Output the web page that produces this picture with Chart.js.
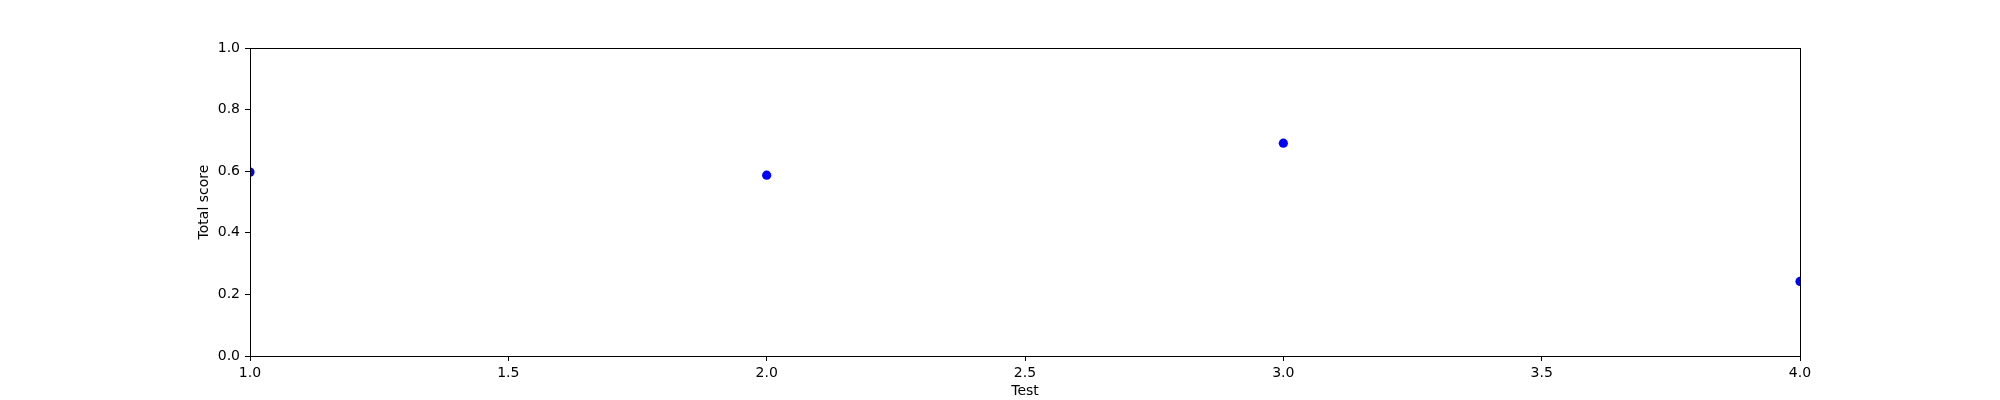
<!DOCTYPE html>
<html>
<head>
<meta charset="utf-8">
<script src="https://cdn.jsdelivr.net/npm/chart.js@4/dist/chart.umd.min.js"></script>
<style>
  html, body { margin: 0; padding: 0; background: white; }
  #wrap { width: 2000px; height: 400px; }
</style>
</head>
<body>
<div id="wrap"><canvas id="chart" width="2000" height="400"></canvas></div>
<script>
var tests = [1, 2, 3, 4];
var scores = [0.597, 0.587, 0.691, 0.242];

var xTicks = [1.0, 1.5, 2.0, 2.5, 3.0, 3.5, 4.0];
var yTicks = [0.0, 0.2, 0.4, 0.6, 0.8, 1.0];

var font = { family: 'DejaVu Sans', size: 14 };

// draw the top and right spines too, like a boxed axes
var boxPlugin = {
  id: 'box',
  afterDraw: function(chart) {
    var a = chart.chartArea;
    var ctx = chart.ctx;
    ctx.save();
    ctx.strokeStyle = '#000';
    ctx.lineWidth = 1;
    ctx.strokeRect(Math.round(a.left) + 0.5, Math.round(a.top) + 0.5,
      Math.round(a.right - a.left), Math.round(a.bottom - a.top));
    ctx.restore();
  }
};

new Chart(document.getElementById('chart'), {
  type: 'scatter',
  data: {
    datasets: [{
      data: tests.map(function(t, i) { return { x: t, y: scores[i] }; }),
      backgroundColor: '#0000ff',
      borderWidth: 0,
      pointRadius: 4.6,
      clip: 0
    }]
  },
  options: {
    responsive: false,
    animation: false,
    layout: { padding: { left: 192, right: 200, top: 48, bottom: 0 } },
    plugins: { legend: { display: false }, tooltip: { enabled: false } },
    scales: {
      x: {
        type: 'linear',
        min: 1, max: 4,
        afterFit: function(s) { s.height = 44; },
        afterBuildTicks: function(s) { s.ticks = xTicks.map(function(v) { return { value: v }; }); },
        ticks: {
          color: '#000', font: font, padding: 4, maxRotation: 0,
          callback: function(v) { return v.toFixed(1); }
        },
        grid: { drawOnChartArea: false, drawTicks: true, tickLength: 5, color: '#000' },
        border: { display: true, color: '#000', width: 1 },
        title: { display: true, text: 'Test', color: '#000', font: font, padding: { top: 0, bottom: 0 } }
      },
      y: {
        min: 0, max: 1,
        afterFit: function(s) { s.width = 58; },
        afterBuildTicks: function(s) { s.ticks = yTicks.map(function(v) { return { value: v }; }); },
        ticks: {
          color: '#000', font: font, padding: 5,
          callback: function(v) { return v.toFixed(1); }
        },
        grid: { drawOnChartArea: false, drawTicks: true, tickLength: 5, color: '#000' },
        border: { display: true, color: '#000', width: 1 },
        title: { display: true, text: 'Total score', color: '#000', font: font, padding: { top: 4, bottom: 4 } }
      }
    }
  },
  plugins: [boxPlugin]
});
</script>
</body>
</html>
